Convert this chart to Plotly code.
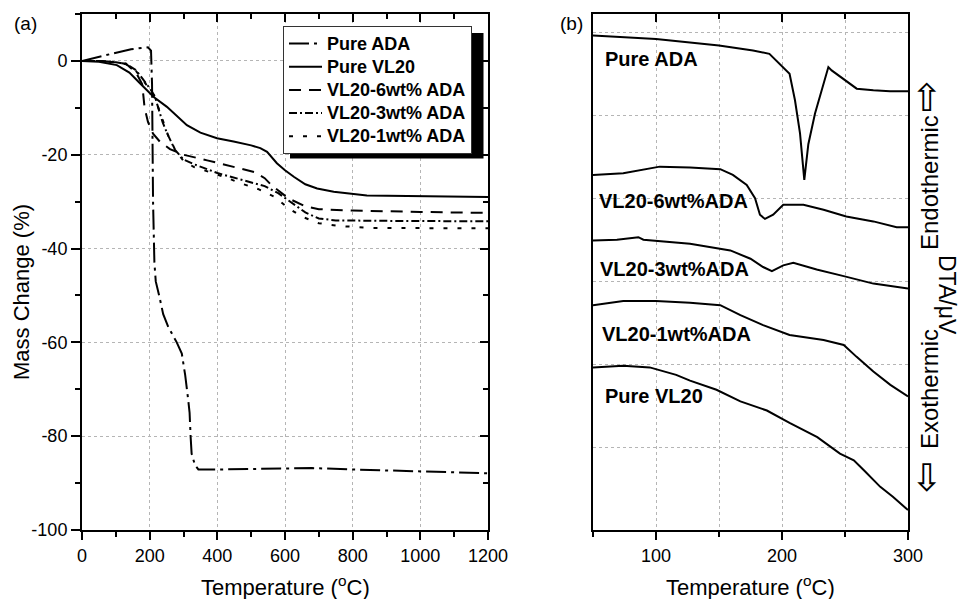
import plotly.graph_objects as go

W, H = 963, 599

# ---------------- Panel (a): TGA mass change ----------------
ada_T = [0, 35, 90, 145, 195, 204, 207, 210, 214, 218, 228, 236, 240, 255, 280, 295, 305, 314, 318, 321, 324, 334, 344, 400, 500, 600, 680, 800, 900, 1000, 1100, 1200]
ada_M = [0, 0.6, 1.6, 2.5, 2.9, 2.2, -5, -30, -43, -47, -50, -52.5, -54, -56.7, -60, -62.4, -67, -72.3, -75, -80, -83.7, -86.2, -87.1, -87.1, -87.0, -86.9, -86.8, -87.1, -87.3, -87.5, -87.7, -87.9]

vl20_T = [0, 50, 103, 140, 172, 212, 251, 280, 310, 350, 399, 448, 500, 527, 547, 576, 600, 626, 660, 695, 744, 842, 1000, 1200]
vl20_M = [0, -0.2, -0.9, -2.5, -4.8, -7.7, -9.8, -11.8, -13.7, -15.3, -16.5, -17.2, -18.0, -18.6, -19.4, -21.8, -23.3, -24.7, -26.3, -27.2, -27.9, -28.7, -28.9, -29.0]

w6_T = [0, 50, 100, 130, 160, 178, 185, 195, 210, 230, 260, 300, 370, 440, 510, 540, 560, 610, 660, 700, 800, 1000, 1200]
w6_M = [0, 0, -0.3, -0.6, -2.5, -5, -10, -13, -15.5, -17.2, -18.8, -20.0, -21.2, -22.4, -23.7, -25.0, -26.5, -29.3, -31.0, -31.6, -31.9, -32.2, -32.4]

w3_T = [0, 60, 100, 130, 160, 180, 200, 215, 225, 238, 252, 275, 300, 330, 400, 480, 540, 580, 620, 660, 700, 750, 900, 1200]
w3_M = [0, 0, -0.3, -0.6, -2.0, -3.8, -5.8, -7.5, -10.0, -13.0, -15.5, -19.0, -21.0, -22.0, -23.9, -25.5, -26.7, -28.2, -30.2, -32.3, -33.6, -34.0, -34.1, -34.2]

w1_T = [0, 60, 100, 130, 160, 180, 200, 215, 228, 240, 255, 278, 300, 330, 420, 470, 520, 570, 610, 650, 700, 760, 860, 1200]
w1_M = [0, 0, -0.3, -0.7, -2.2, -4.0, -6.0, -7.8, -10.5, -13.3, -16.0, -19.3, -21.3, -22.6, -24.7, -26.1, -27.3, -29.0, -31.4, -33.2, -34.6, -35.2, -35.6, -35.7]

a_xticks = [0, 200, 400, 600, 800, 1000, 1200]
a_xticktext = ["0", "200", "400", "600", "800", "1000", "1200"]
a_yticks = [-100, -80, -60, -40, -20, 0]
a_yticktext = ["-100", "-80", "-60", "-40", "-20", "0"]

# ---------------- Panel (b): DTA (stacked, arbitrary offset) ----------------
b_ada_T = [50, 100, 150, 177, 190, 198, 206, 210.3, 214.3, 217.7, 220.9, 226.2, 232.8, 236.8, 239.4, 248.7, 259.3, 272.5, 285.7, 300]
b_ada_Y = [59.6, 59.2, 58.4, 57.8, 57.4, 56.2, 55.0, 51.8, 47.8, 42.2, 46.5, 50.2, 53.8, 55.8, 55.4, 54.4, 53.2, 53.0, 52.9, 52.9]

b_w6_T = [50, 74, 103, 127, 151, 161, 172, 178.6, 182.5, 186.5, 193, 201, 217, 233, 251, 272.5, 291, 300]
b_w6_Y = [42.8, 43.0, 43.8, 43.7, 43.5, 42.8, 41.6, 40.0, 38.0, 37.5, 38.0, 39.2, 39.2, 38.6, 37.8, 37.2, 36.5, 36.5]

b_w3_T = [50, 69, 86, 90, 127, 159, 175, 185, 192, 201, 209, 227.5, 249, 272.5, 300]
b_w3_Y = [34.9, 35.0, 35.3, 35.0, 34.5, 33.7, 32.7, 31.7, 31.2, 31.9, 32.2, 31.4, 30.6, 29.7, 29.1]

b_w1_T = [50, 74, 100, 127, 151, 167, 185, 198, 206, 233, 249, 259, 272.5, 286, 300]
b_w1_Y = [27.1, 27.6, 27.6, 27.4, 27.1, 25.9, 24.7, 23.9, 23.5, 22.9, 22.3, 20.9, 19.1, 17.5, 16.1]

b_vl20_T = [50, 74, 95, 116, 127, 148, 167, 188, 206, 228, 246, 257, 265, 278, 288, 300]
b_vl20_Y = [19.6, 19.8, 19.6, 18.7, 18.0, 16.9, 15.5, 14.4, 12.9, 11.2, 9.2, 8.4, 7.2, 5.2, 4.0, 2.4]

b_xticks = [100, 200, 300]
b_xticktext = ["100", "200", "300"]

legend_names = ["Pure ADA", "Pure VL20", "VL20-6wt% ADA", "VL20-3wt% ADA", "VL20-1wt% ADA"]
b_labels = ["Pure ADA", "VL20-6wt%ADA", "VL20-3wt%ADA", "VL20-1wt%ADA", "Pure VL20"]

# ---------------- helpers ----------------
def px(x):
    return x / W

def py(y):
    return 1 - y / H

FONT = "Liberation Sans, Arial, sans-serif"
LW = 2.0
dashes = ["20px,5px,3px,5px", "solid", "12px,8px", "8px,3px,2px,3px", "4px,10px"]

fig = go.Figure()

series_a = [(ada_T, ada_M), (vl20_T, vl20_M), (w6_T, w6_M), (w3_T, w3_M), (w1_T, w1_M)]
for (t, m), name, d in zip(series_a, legend_names, dashes):
    fig.add_trace(go.Scatter(x=t, y=m, mode="lines",
                             name="<span style='font-size:18px'>" + name + "</span>",
                             line=dict(color="black", width=LW, dash=d),
                             xaxis="x", yaxis="y"))

series_b = [(b_ada_T, b_ada_Y), (b_w6_T, b_w6_Y), (b_w3_T, b_w3_Y), (b_w1_T, b_w1_Y), (b_vl20_T, b_vl20_Y)]
for t, y in series_b:
    fig.add_trace(go.Scatter(x=t, y=y, mode="lines", showlegend=False,
                             line=dict(color="black", width=LW),
                             xaxis="x2", yaxis="y2"))

# dummy traces so overlay axes (inward mirror ticks) get drawn
for xa, ya in [("x3", "y"), ("x", "y3"), ("x4", "y2")]:
    fig.add_trace(go.Scatter(x=[None], y=[None], xaxis=xa, yaxis=ya, showlegend=False, hoverinfo="skip"))

dom_xa = [px(82), px(488)]
dom_xb = [px(593), px(908)]
dom_y = [py(530), py(14)]

grid = dict(showgrid=True, gridcolor="#b5b5b5", gridwidth=1, griddash="dot")
line = dict(showline=True, linecolor="black", linewidth=2, mirror=True, zeroline=False)
tickfont = dict(family=FONT, size=18, color="black")

fig.update_layout(
    width=W, height=H, autosize=False,
    margin=dict(l=0, r=0, t=0, b=0, pad=0, autoexpand=False),
    paper_bgcolor="white", plot_bgcolor="white",
    showlegend=True,
    xaxis=dict(domain=dom_xa, range=[0, 1200], anchor="y", automargin=False,
               tickmode="array", tickvals=a_xticks, ticktext=a_xticktext,
               ticks="outside", ticklen=8, tickwidth=1.5, tickcolor="black", tickfont=tickfont,
               minor=dict(dtick=100, tick0=0, ticks="outside", ticklen=5, tickwidth=1.5, tickcolor="black", showgrid=False),
               **grid, **line),
    yaxis=dict(domain=dom_y, range=[-100, 10], anchor="x", automargin=False,
               tickmode="array", tickvals=a_yticks, ticktext=a_yticktext,
               ticks="outside", ticklen=9, tickwidth=1.5, tickcolor="black", tickfont=tickfont,
               minor=dict(dtick=10, tick0=0, ticks="outside", ticklen=5, tickwidth=1.5, tickcolor="black", showgrid=False),
               **grid, **line),
    xaxis3=dict(overlaying="x", side="top", anchor="y", range=[0, 1200], automargin=False,
                tickmode="linear", tick0=0, dtick=200, ticks="inside", ticklen=8, tickwidth=1.5, tickcolor="black",
                showticklabels=False, showgrid=False, showline=False, zeroline=False,
                minor=dict(dtick=100, tick0=0, ticks="inside", ticklen=5, tickwidth=1.5, tickcolor="black")),
    yaxis3=dict(overlaying="y", side="right", anchor="x", range=[-100, 10], automargin=False,
                tickmode="linear", tick0=0, dtick=20, ticks="inside", ticklen=8, tickwidth=1.5, tickcolor="black",
                showticklabels=False, showgrid=False, showline=False, zeroline=False,
                minor=dict(dtick=10, tick0=0, ticks="inside", ticklen=5, tickwidth=1.5, tickcolor="black")),
    xaxis2=dict(domain=dom_xb, range=[50, 300], anchor="y2", automargin=False,
                tickmode="array", tickvals=b_xticks, ticktext=b_xticktext,
                ticks="outside", ticklen=8, tickwidth=1.5, tickcolor="black", tickfont=tickfont,
                minor=dict(dtick=50, tick0=0, ticks="outside", ticklen=5, tickwidth=1.5, tickcolor="black",
                           showgrid=True, gridcolor="#b5b5b5", gridwidth=1, griddash="dot"),
                **grid, **line),
    yaxis2=dict(domain=dom_y, range=[0, 62.2], anchor="x2", automargin=False,
                tickmode="linear", tick0=0, dtick=10, ticks="", showticklabels=False,
                **grid, **line),
    xaxis4=dict(overlaying="x2", side="top", anchor="y2", range=[50, 300], automargin=False,
                tickmode="linear", tick0=0, dtick=100, ticks="inside", ticklen=8, tickwidth=1.5, tickcolor="black",
                showticklabels=False, showgrid=False, showline=False, zeroline=False,
                minor=dict(dtick=50, tick0=0, ticks="inside", ticklen=5, tickwidth=1.5, tickcolor="black")),
    legend=dict(x=px(283), y=py(26), xanchor="left", yanchor="top",
                bgcolor="white", bordercolor="#333333", borderwidth=1,
                font=dict(family=FONT, size=15.5, color="black", weight="bold"),
                tracegroupgap=0, itemwidth=33),
)

# legend drop shadow
fig.add_shape(type="rect", xref="paper", yref="paper",
              x0=px(290), x1=px(483.5), y0=py(158.5), y1=py(33),
              fillcolor="black", line=dict(width=0), layer="above")

ann = []
def text(x, y, s, size, bold=False, angle=0, xanchor="center", yanchor="middle", family=FONT):
    ann.append(dict(x=px(x), y=py(y), xref="paper", yref="paper", text=s, showarrow=False,
                    textangle=angle, xanchor=xanchor, yanchor=yanchor,
                    font=dict(family=family, size=size, color="black", weight="bold" if bold else "normal")))

text(25, 24, "(a)", 19)
text(571, 24, "(b)", 19)
text(285, 586, "Temperature (<sup>o</sup>C)", 22)
text(750, 586, "Temperature (<sup>o</sup>C)", 22)
text(21, 292, "Mass Change (%)", 22, angle=-90)

label_pos = [(603, 59), (597, 201), (598, 269), (600, 334), (603, 396)]
for (x, y), s in zip(label_pos, b_labels):
    text(x, y, s, 20, bold=True, xanchor="left")

text(929, 183, "Endothermic", 24, angle=-90)
text(929, 389, "Exothermic", 24, angle=-90)
text(927, 98, "⇧", 38, family="DejaVu Sans")
text(927, 478, "⇩", 38, family="DejaVu Sans")
text(947, 295, "DTA/μV", 23, angle=90)

fig.update_layout(annotations=ann)

post = ("var s=document.documentElement.style;s.margin='0';s.padding='0';s.overflow='hidden';"
        "var b=document.body.style;b.margin='0';b.padding='0';b.overflow='hidden';")

fig.write_html("out.html", config={"displayModeBar": False}, post_script=post)
